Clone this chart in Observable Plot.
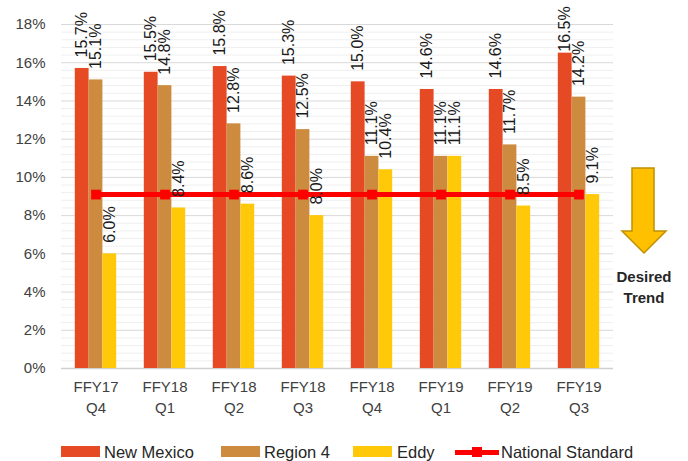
<!DOCTYPE html>
<html>
<head>
<meta charset="utf-8">
<script src="https://cdn.jsdelivr.net/npm/d3@7"></script>
<script src="https://cdn.jsdelivr.net/npm/@observablehq/plot@0.6"></script>
<style>
  html, body { margin: 0; padding: 0; background: #fff; }
  #wrap { width: 688px; height: 461px; position: relative; font-family: "Liberation Sans", Arial, sans-serif; }
  #legend { position: relative; width: 688px; height: 31px; }
  .sw { position: absolute; top: 16px; height: 11px; }
  .lt { position: absolute; top: 22px; transform: translateY(-50%); font-size: 16.5px; color: #262626; line-height: 1; white-space: nowrap; }
</style>
</head>
<body>
<div id="wrap"></div>
<script>
const categories = ["FFY17\nQ4", "FFY18\nQ1", "FFY18\nQ2", "FFY18\nQ3", "FFY18\nQ4", "FFY19\nQ1", "FFY19\nQ2", "FFY19\nQ3"];
const seriesNames = ["New Mexico", "Region 4", "Eddy"];
const newMexico = [15.7, 15.5, 15.8, 15.3, 15.0, 14.6, 14.6, 16.5];
const region4   = [15.1, 14.8, 12.8, 12.5, 11.1, 11.1, 11.7, 14.2];
const eddy      = [6.0, 8.4, 8.6, 8.0, 10.4, 11.1, 8.5, 9.1];
const nationalStandard = [9.1, 9.1, 9.1, 9.1, 9.1, 9.1, 9.1, 9.1];
const yTicks = [0, 2, 4, 6, 8, 10, 12, 14, 16, 18];
const colors = ["#E64A25", "#CD8B3F", "#FFC90A"];
const lineColor = "#FF0000";

const seriesValues = [newMexico, region4, eddy];
const barWidth = 0.2;
const labelCeiling = 16.0; // labels are kept inside the chart area, like the original
const bars = seriesValues.flatMap((vals, j) => vals.map((v, i) => ({
  i, j, v, series: seriesNames[j],
  x1: i - 1.5 * barWidth + j * barWidth,
  x2: i - 0.5 * barWidth + j * barWidth,
  xc: i - barWidth + j * barWidth
})));
const ns = nationalStandard.map((v, i) => ({i, v}));
const minorTicks = d3.range(0, 18.001, 0.4).filter(t => Math.abs(t / 2 - Math.round(t / 2)) > 1e-6);

const chart = Plot.plot({
  width: 688,
  height: 430,
  marginLeft: 61,
  marginRight: 75,
  marginTop: 24,
  marginBottom: 62,
  style: {fontFamily: "Liberation Sans, Arial, sans-serif", background: "#fff", overflow: "visible"},
  x: {domain: [-0.5, 7.5]},
  y: {domain: [0, 18]},
  color: {domain: seriesNames, range: colors},
  marks: [
    Plot.ruleY(minorTicks, {stroke: "#efefef", strokeWidth: 1}),
    Plot.ruleY(yTicks.filter(t => t > 0), {stroke: "#d9d9d9", strokeWidth: 1}),
    Plot.ruleY([0], {stroke: "#d0d0d0", strokeWidth: 1.5}),
    Plot.axisY({ticks: yTicks, tickFormat: d => d + "%", tickSize: 0, tickPadding: 16, fontSize: 15, fill: "#404040", label: null}),
    Plot.axisX({ticks: d3.range(categories.length), tickFormat: i => categories[i], tickSize: 0, tickPadding: 9, fontSize: 15, lineHeight: 1.4, fill: "#404040", label: null}),
    Plot.rect(bars, {x1: "x1", x2: "x2", y1: 0, y2: "v", fill: "series"}),
    Plot.line(ns, {x: "i", y: "v", stroke: lineColor, strokeWidth: 5}),
    Plot.dot(ns, {x: "i", y: "v", symbol: "square", r: 5.5, fill: lineColor}),
    Plot.text(bars, {x: "xc", y: d => Math.min(d.v, labelCeiling), text: d => d.v.toFixed(1) + "%", rotate: -90, textAnchor: "start", dy: -11, fontSize: 16, fill: "#1a1a1a"})
  ]
});

const svg = d3.select(chart);
svg.append("polygon")
  .attr("points", "632,168 654,168 654,231 666,231 644,253 622,231 632,231")
  .attr("fill", "#FFC000").attr("stroke", "#BF9000").attr("stroke-width", 1.5).attr("stroke-linejoin", "miter");
svg.append("text").attr("x", 644).attr("y", 282).attr("text-anchor", "middle")
  .attr("font-size", 15).attr("font-weight", "bold").attr("fill", "#262626").text("Desired");
svg.append("text").attr("x", 644).attr("y", 303).attr("text-anchor", "middle")
  .attr("font-size", 15).attr("font-weight", "bold").attr("fill", "#262626").text("Trend");

const wrap = document.getElementById("wrap");
wrap.appendChild(chart);

const legend = document.createElement("div");
legend.id = "legend";
const items = [
  {name: seriesNames[0], color: colors[0], sw: 61, tx: 104},
  {name: seriesNames[1], color: colors[1], sw: 221, tx: 264},
  {name: seriesNames[2], color: colors[2], sw: 353, tx: 397}
];
for (const it of items) {
  const s = document.createElement("div");
  s.className = "sw";
  s.style.left = it.sw + "px"; s.style.width = "39px"; s.style.background = it.color;
  legend.appendChild(s);
  const t = document.createElement("div");
  t.className = "lt"; t.style.left = it.tx + "px"; t.textContent = it.name;
  legend.appendChild(t);
}
const ln = document.createElement("div");
ln.style.cssText = `position:absolute;left:455px;width:44px;top:19.5px;height:5px;background:${lineColor}`;
legend.appendChild(ln);
const sq = document.createElement("div");
sq.style.cssText = `position:absolute;left:472px;width:10px;top:17px;height:10px;background:${lineColor}`;
legend.appendChild(sq);
const nt = document.createElement("div");
nt.className = "lt"; nt.style.left = "501px"; nt.textContent = "National Standard";
legend.appendChild(nt);
wrap.appendChild(legend);
</script>
</body>
</html>
